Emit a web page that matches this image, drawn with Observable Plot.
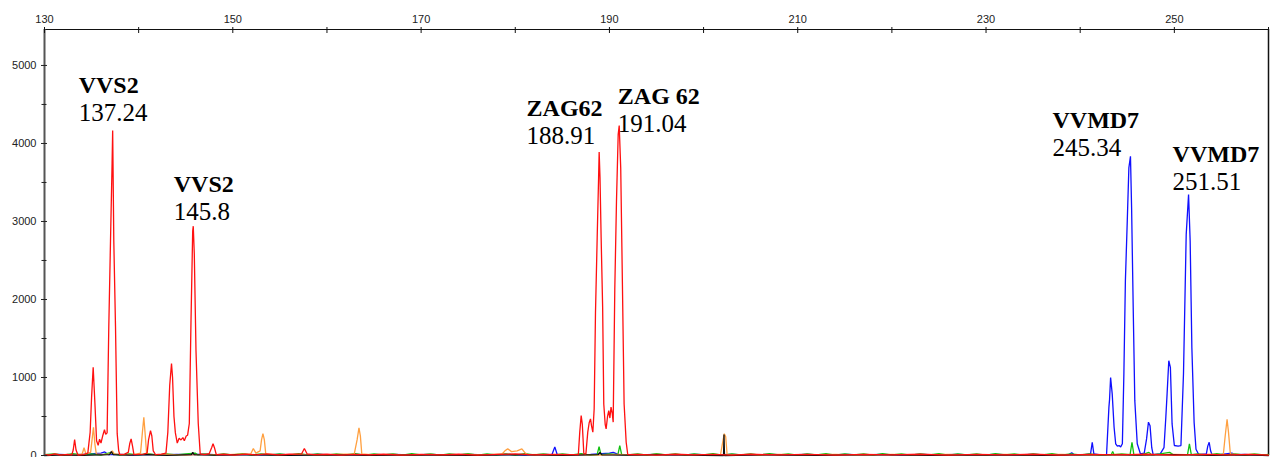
<!DOCTYPE html>
<html>
<head>
<meta charset="utf-8">
<script src="https://cdn.jsdelivr.net/npm/d3@7"></script>
<script src="https://cdn.jsdelivr.net/npm/@observablehq/plot@0.6"></script>
<style>
  html, body { margin: 0; padding: 0; background: #fff; }
</style>
</head>
<body>
<div id="chart"></div>
<script>
// Fragment sizes (bp) and signal intensity (RFU) for each dye channel.
const redTrace = [
  [130,12],[130.5,4],[131.1,22],[131.7,6],[132.4,14],[132.9,8],[133.05,70],[133.2,205],[133.35,70],[133.55,6],
  [134.1,12],[134.6,30],[134.85,300],[135.0,745],[135.17,1130],[135.35,680],[135.53,190],[135.7,130],[135.85,210],
  [136.0,160],[136.2,260],[136.37,330],[136.5,270],[136.65,290],[136.83,1660],[137.01,2750],[137.18,3750],
  [137.24,4165],[137.36,2750],[137.54,1660],[137.72,280],[137.88,60],[138.0,10],[138.5,18],[138.9,40],
  [139.05,150],[139.2,213],[139.35,120],[139.5,10],[140.0,15],[140.5,18],[140.9,30],[141.05,200],[141.26,320],
  [141.4,250],[141.55,60],[141.8,10],[142.4,18],[142.9,30],[143.1,300],[143.3,900],[143.49,1180],[143.6,1000],
  [143.75,500],[143.9,290],[144.1,160],[144.3,220],[144.5,200],[144.7,230],[144.85,190],[145.05,250],[145.2,260],
  [145.38,410],[145.56,1726],[145.74,2877],[145.8,2940],[145.91,2583],[146.09,1343],[146.33,410],[146.54,20],
  [147.0,10],[147.5,25],[147.75,100],[147.9,150],[148.05,100],[148.25,10],[149.1,16],[150.2,6],[151.3,18],
  [152.5,8],[153.6,20],[154.8,8],[156.0,16],[157.3,20],[157.6,90],[157.9,20],[158.6,10],[160.0,16],[161.5,6],
  [163.0,14],[164.5,8],[166.0,16],[168.0,6],[170.0,14],[172.0,8],[174.0,16],[176.0,6],[178.0,14],[180.0,20],
  [182.0,8],[184.0,14],[186.0,10],[186.7,12],[186.85,300],[187.0,511],[187.12,400],[187.28,25],[187.5,20],
  [187.7,300],[187.85,420],[187.99,470],[188.1,380],[188.24,300],[188.38,600],[188.52,1833],[188.7,2792],
  [188.85,3560],[188.91,3890],[189.0,3560],[189.12,2792],[189.28,1897],[189.4,660],[189.55,400],[189.65,340],
  [189.8,500],[189.93,575],[190.05,480],[190.17,620],[190.3,540],[190.4,427],[190.57,2130],[190.75,3260],
  [190.93,4113],[191.04,4230],[191.2,3686],[191.38,2195],[191.56,660],[191.78,170],[191.95,10],[193,14],[195,6],
  [197,16],[199,8],[201,14],[203,6],[205,16],[208,8],[211,14],[214,6],[217,14],[220,8],[223,16],[226,6],[229,14],
  [232,8],[235,16],[238,6],[241,14],[244,8],[247,16],[250,6],[253,14],[256,8],[258,14],[260,6]
];

const orangeTrace = [
  [130,6],[131.2,14],[132.5,4],[133.7,12],[134.0,20],[134.2,100],[134.4,20],[134.9,40],[135.05,200],[135.2,362],
  [135.35,150],[135.5,20],[136.3,10],[137.0,20],[137.2,60],[137.4,20],[138.5,8],[139.6,14],[140.2,30],[140.4,300],
  [140.55,490],[140.7,260],[140.85,20],[141.6,8],[143,14],[145,6],[147,14],[149,8],[150.6,16],[151.9,20],
  [152.18,90],[152.45,30],[152.9,60],[153.05,200],[153.2,280],[153.35,200],[153.5,20],[155,8],[157,14],[159,6],
  [161,14],[162.9,20],[163.2,200],[163.4,355],[163.55,250],[163.7,20],[165,8],[167,14],[169,6],[171,14],[173,6],
  [175,14],[177,8],[178.6,20],[178.9,60],[179.2,85],[179.6,50],[180.2,60],[180.7,85],[181.0,40],[181.3,10],
  [183,14],[185,6],[187,12],[189,6],[191,14],[193,6],[195,14],[197,8],[199,12],[201.8,10],[202.0,150],[202.2,280],
  [202.35,240],[202.5,10],[204,12],[206,6],[208,14],[211,8],[214,14],[217,6],[220,14],[223,8],[226,14],[229,6],
  [232,14],[235,8],[238,14],[241,6],[244,14],[247,8],[250,14],[252.5,8],[254,14],[255.2,10],[255.4,250],
  [255.6,465],[255.75,300],[255.95,20],[257,10],[258.5,14],[260,6]
];

const blueTrace = [
  [130,4],[131.5,14],[133,8],[134.5,16],[136,30],[136.4,45],[136.8,10],[138,14],[139.5,6],[141,14],[142.5,8],
  [144,14],[145.5,10],[147,16],[149,6],[151,14],[153,8],[155,14],[157,6],[159,14],[161,8],[163,14],[165,6],
  [167,14],[169,8],[171,14],[173,6],[175,14],[177,8],[179,14],[181,6],[183,14],[183.9,12],[184.2,110],[184.45,12],
  [186,8],[188,14],[190,30],[190.4,40],[191,12],[193,8],[195,14],[197,6],[199,14],[201,8],[203,14],[205,6],
  [207,14],[209,8],[211,14],[213,6],[215,14],[217,8],[219,14],[221,6],[223,14],[225,8],[227,14],[229,6],[231,14],
  [233,8],[235,14],[237,6],[238.8,12],[239.1,35],[239.35,10],[240.5,12],[241.1,20],[241.28,170],[241.45,20],
  [242.0,10],[242.8,12],[243.05,617],[243.12,720],[243.23,1000],[243.4,790],[243.6,362],[243.77,150],[243.95,120],
  [244.13,128],[244.3,110],[244.48,150],[244.64,1045],[244.8,2238],[245.0,3005],[245.17,3687],[245.34,3836],
  [245.46,3175],[245.63,1897],[245.8,703],[246.06,150],[246.4,20],[246.8,30],[247.05,213],[247.25,427],
  [247.42,380],[247.6,100],[247.75,10],[248.5,20],[248.9,100],[249.1,500],[249.23,790],[249.41,1215],[249.58,1130],
  [249.76,405],[250.0,128],[250.4,120],[250.7,128],[250.97,1045],[251.26,2835],[251.51,3346],[251.68,2750],
  [251.86,1385],[252.1,425],[252.3,80],[252.6,10],[253.4,20],[253.55,120],[253.7,170],[253.85,60],[254.0,10],
  [255.0,14],[256.1,30],[256.5,10],[257.5,14],[258.8,6],[260,12]
];

const greenTrace = [
  [130,10],[131,22],[132,6],[133,24],[134,8],[135,20],[136,6],[137.1,40],[137.3,20],[138,6],[139,22],[140,8],
  [141,24],[142,6],[143,20],[144,8],[145,22],[146,30],[146.3,8],[147,20],[148,6],[149,22],[150,8],[151,24],
  [152,6],[153,20],[154,8],[155,22],[156,6],[157,24],[158,8],[159,20],[160,6],[161,22],[162,8],[163,24],[164,6],
  [165,20],[166,8],[167,22],[168,6],[169,24],[170,8],[171,20],[172,6],[173,22],[174,8],[175,24],[176,6],[177,20],
  [178,8],[179,22],[180,6],[181,24],[182,8],[183,20],[184,6],[185,22],[186,8],[187,24],[188,6],[188.7,10],
  [188.9,115],[189.1,10],[190,20],[190.9,10],[191.1,128],[191.3,10],[192,8],[193,22],[194,6],[195,24],[196,8],
  [197,20],[198,6],[199,22],[200,8],[201,24],[202,6],[203,20],[204,8],[205,22],[206,6],[207,24],[208,8],[209,20],
  [210,6],[211,22],[212,8],[213,24],[214,6],[215,20],[216,8],[217,22],[218,6],[219,24],[220,8],[221,20],[222,6],
  [223,22],[224,8],[225,24],[226,6],[227,20],[228,8],[229,22],[230,6],[231,24],[232,8],[233,20],[234,6],[235,22],
  [236,8],[237,24],[238,6],[239,20],[240,8],[241,22],[242,6],[243.3,10],[243.45,50],[243.6,10],[244.4,20],
  [245.3,10],[245.5,170],[245.7,10],[246.5,8],[247.3,40],[247.6,8],[248.5,20],[249.5,40],[249.9,8],[251.4,10],
  [251.6,150],[251.8,10],[252.5,22],[253.5,6],[254.5,24],[255.5,8],[256.5,20],[257.5,6],[258.5,22],[259.5,8],[260,14]
];

const blackTrace = [
  [130,0],[132,8],[134,2],[136.9,10],[137.1,50],[137.3,10],[139,4],[141,10],[143,2],[145.6,10],[145.75,40],
  [145.9,10],[148,4],[152,10],[156,2],[160,8],[165,2],[170,8],[175,2],[180,10],[185,2],[188.8,10],[189.0,40],
  [189.2,8],[192,4],[196,10],[200,2],[202.12,0],[202.17,270],[202.22,0],[206,8],[212,2],[218,10],[224,2],
  [230,8],[236,2],[242,10],[246,4],[250,10],[254,2],[258,8],[260,0]
];

// Allele calls: marker name, called size (bp) and peak height (RFU)
const markerNames = ["VVS2", "VVS2", "ZAG62", "ZAG 62", "VVMD7", "VVMD7"];
const calledSizes = [137.24, 145.8, 188.91, 191.04, 245.34, 251.51];
const peakHeights = [4165, 2940, 3890, 4230, 3836, 3346];

// Axis ticks
const xMajorTicks = [130, 150, 170, 190, 210, 230, 250];
const xMinorTicks = [140, 160, 180, 200, 220, 240, 260];
const yMajorTicks = [0, 1000, 2000, 3000, 4000, 5000];
const yMinorTicks = [500, 1500, 2500, 3500, 4500];

// ---- layout ----
const W = 1277, H = 457;
const mL = 44, mR = 9, mT = 29, mB = 2;
const xMin = 130, xMax = 260, yMax = 5461;
const kx = (W - mL - mR) / (xMax - xMin);   // px per bp
const ky = (H - mT - mB) / yMax;            // px per RFU

// Label placement relative to each peak apex, in pixels (left edge, baseline of the size line)
const labelOffsetPx = [[-34, -10], [-19.5, -6.4], [-72.6, -8.3], [-1.4, 6.7], [-78, 0], [-16, -4]];

const rows = (arr) => arr.map(([x, y]) => ({x, y}));
const calls = markerNames.map((name, i) => ({
  name,
  size: calledSizes[i],
  height: peakHeights[i],
  lx: calledSizes[i] + labelOffsetPx[i][0] / kx,
  ly: peakHeights[i] - labelOffsetPx[i][1] / ky
}));

const traceStyle = {x: "x", y: "y", strokeWidth: 1.3, strokeLinejoin: "miter", curve: "linear"};
const serif = "'Liberation Serif', 'Times New Roman', serif";

const chart = Plot.plot({
  width: W,
  height: H,
  marginLeft: mL,
  marginRight: mR,
  marginTop: mT,
  marginBottom: mB,
  style: {
    fontFamily: "'Liberation Sans', Arial, sans-serif",
    fontSize: "11px",
    background: "#fff",
    color: "#222",
    overflow: "visible"
  },
  x: {domain: [xMin, xMax]},
  y: {domain: [0, yMax]},
  marks: [
    // plot frame: top and right edges
    Plot.ruleY([yMax], {stroke: "#111", strokeWidth: 1}),
    Plot.ruleX([xMax], {stroke: "#111", strokeWidth: 1.5}),

    // dye channels
    Plot.line(rows(blueTrace), {...traceStyle, stroke: "#1010ff"}),
    Plot.line(rows(greenTrace), {...traceStyle, stroke: "#10c010"}),
    Plot.line(rows(orangeTrace), {...traceStyle, stroke: "#ffa040"}),
    Plot.line(rows(blackTrace), {...traceStyle, stroke: "#111"}),
    Plot.line(rows(redTrace), {...traceStyle, stroke: "#ff1010"}),

    // left axis line
    Plot.ruleX([xMin], {stroke: "#555", strokeWidth: 2}),

    // size axis along the top
    Plot.axisX(xMajorTicks, {anchor: "top", tickSize: 6, dy: 3, tickPadding: 3.5, tickFormat: "d", label: null, stroke: "#111", fill: "#222"}),
    Plot.axisX(xMinorTicks, {anchor: "top", tickSize: 6, dy: 3, tickFormat: () => "", label: null, stroke: "#111"}),

    // intensity axis
    Plot.axisY(yMajorTicks, {anchor: "left", tickSize: 6, dx: 3, tickPadding: 5, tickFormat: "d", label: null, stroke: "#222", fill: "#222"}),
    Plot.axisY(yMinorTicks, {anchor: "left", tickSize: 5, dx: 2.5, tickFormat: () => "", label: null, stroke: "#222"}),

    // allele call labels
    Plot.text(calls, {x: "lx", y: "ly", text: "name", dy: -28, textAnchor: "start", lineAnchor: "bottom",
      fontFamily: serif, fontSize: 24, fontWeight: "bold", fill: "#000"}),
    Plot.text(calls, {x: "lx", y: "ly", text: d => String(d.size), textAnchor: "start", lineAnchor: "bottom",
      fontFamily: serif, fontSize: 25, fill: "#000"})
  ]
});

document.getElementById("chart").appendChild(chart);
</script>
</body>
</html>
